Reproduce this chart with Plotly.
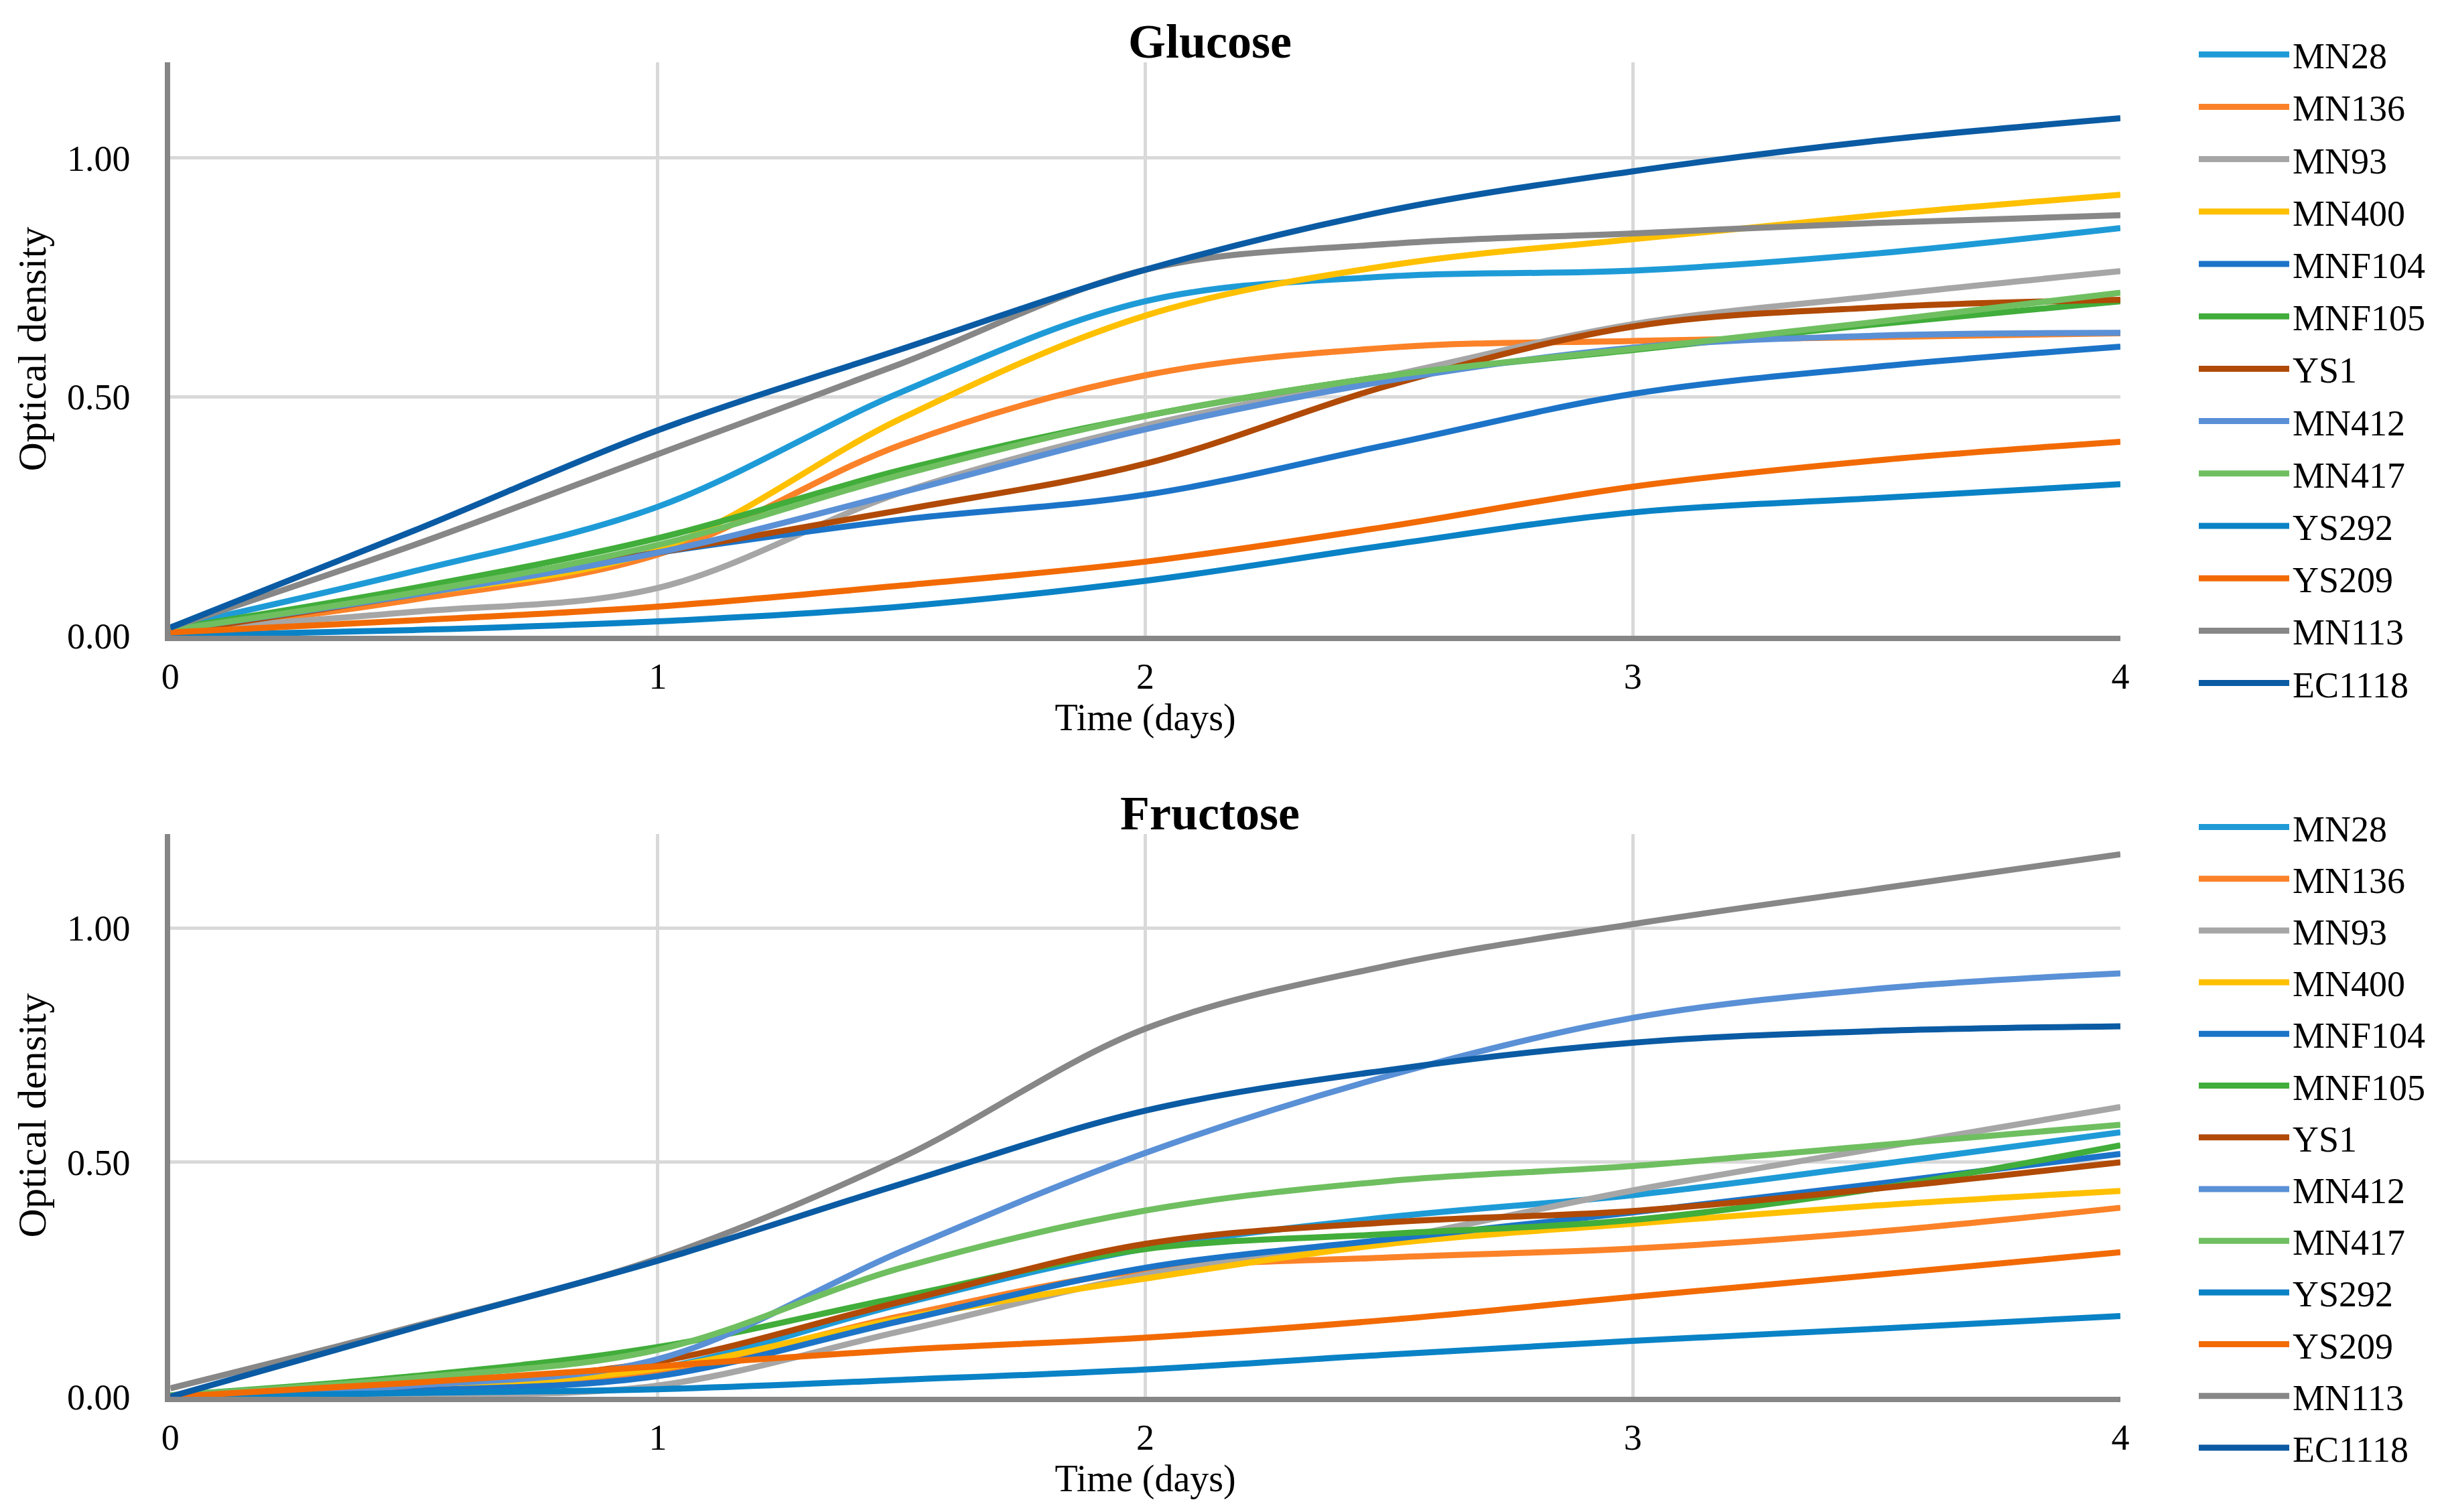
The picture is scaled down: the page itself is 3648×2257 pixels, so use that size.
import plotly.graph_objects as go

days = [0, 0.5, 1, 1.5, 2, 2.5, 3, 3.5, 4]
strains = ["MN28", "MN136", "MN93", "MN400", "MNF104", "MNF105", "YS1",
           "MN412", "MN417", "YS292", "YS209", "MN113", "EC1118"]
colors = ["#1E9BD7", "#FB8228", "#A6A6A6", "#FFC000", "#1C74C8", "#41AD3A",
          "#B04A06", "#5A90D6", "#6FBF60", "#0A82C6", "#F26A04", "#878787", "#0A5BA3"]

# Glucose optical density
g_MN28 = [0.017, 0.135, 0.27, 0.51, 0.70, 0.752, 0.764, 0.80, 0.853]
g_MN136 = [0.007, 0.076, 0.17, 0.40, 0.545, 0.603, 0.617, 0.625, 0.633]
g_MN93 = [0.012, 0.05, 0.10, 0.30, 0.44, 0.544, 0.652, 0.711, 0.763]
g_MN400 = [0.012, 0.086, 0.18, 0.455, 0.67, 0.775, 0.83, 0.88, 0.923]
g_MNF104 = [0.007, 0.096, 0.174, 0.243, 0.295, 0.40, 0.506, 0.563, 0.605]
g_MNF105 = [0.014, 0.10, 0.204, 0.347, 0.46, 0.544, 0.598, 0.652, 0.70]
g_YS1 = [0.007, 0.086, 0.174, 0.263, 0.36, 0.524, 0.647, 0.687, 0.703]
g_MN412 = [0.012, 0.086, 0.174, 0.30, 0.432, 0.534, 0.603, 0.628, 0.634]
g_MN417 = [0.012, 0.09, 0.19, 0.337, 0.46, 0.544, 0.60, 0.657, 0.718]
g_YS292 = [0.0, 0.012, 0.03, 0.061, 0.115, 0.19, 0.258, 0.288, 0.317]
g_YS209 = [0.007, 0.032, 0.061, 0.105, 0.155, 0.229, 0.312, 0.367, 0.406]
g_MN113 = [0.017, 0.19, 0.38, 0.57, 0.766, 0.82, 0.842, 0.864, 0.88]
g_EC1118 = [0.017, 0.22, 0.43, 0.60, 0.766, 0.89, 0.972, 1.036, 1.083]

# Fructose optical density
f_MN28 = [0.0, 0.018, 0.06, 0.198, 0.316, 0.383, 0.43, 0.495, 0.564]
f_MN136 = [0.0, 0.016, 0.054, 0.172, 0.27, 0.297, 0.316, 0.352, 0.403]
f_MN93 = [0.0, 0.003, 0.024, 0.14, 0.26, 0.336, 0.44, 0.53, 0.618]
f_MN400 = [0.0, 0.018, 0.06, 0.167, 0.252, 0.326, 0.369, 0.408, 0.439]
f_MNF104 = [0.0, 0.013, 0.044, 0.162, 0.275, 0.336, 0.393, 0.454, 0.518]
f_MNF105 = [0.003, 0.044, 0.106, 0.213, 0.315, 0.347, 0.377, 0.444, 0.536]
f_YS1 = [0.0, 0.024, 0.075, 0.203, 0.326, 0.372, 0.396, 0.444, 0.50]
f_MN412 = [0.0, 0.024, 0.08, 0.31, 0.52, 0.685, 0.808, 0.87, 0.903]
f_MN417 = [0.003, 0.04, 0.10, 0.275, 0.397, 0.46, 0.492, 0.536, 0.58]
f_YS292 = [0.0, 0.008, 0.016, 0.036, 0.058, 0.09, 0.119, 0.145, 0.172]
f_YS209 = [0.0, 0.03, 0.065, 0.10, 0.126, 0.164, 0.213, 0.26, 0.308]
f_MN113 = [0.018, 0.15, 0.295, 0.51, 0.785, 0.92, 1.008, 1.083, 1.157]
f_EC1118 = [0.0, 0.147, 0.29, 0.454, 0.61, 0.697, 0.755, 0.78, 0.79]

glucose = [g_MN28, g_MN136, g_MN93, g_MN400, g_MNF104, g_MNF105, g_YS1,
           g_MN412, g_MN417, g_YS292, g_YS209, g_MN113, g_EC1118]
fructose = [f_MN28, f_MN136, f_MN93, f_MN400, f_MNF104, f_MNF105, f_YS1,
            f_MN412, f_MN417, f_YS292, f_YS209, f_MN113, f_EC1118]

y_ticks = [0, 0.5, 1.0]
y_tick_text = ["0.00", "0.50", "1.00"]
x_ticks = [0, 1, 2, 3, 4]

FONT = "Liberation Serif"
fig = go.Figure()

for name, col, g in zip(strains, colors, glucose):
    fig.add_trace(go.Scatter(x=days, y=g, name=name, mode="lines", legendgroup="glc_" + name,
                             line=dict(color=col, width=9, shape="spline", smoothing=1.0),
                             xaxis="x", yaxis="y", legend="legend"))
for name, col, f in zip(strains, colors, fructose):
    fig.add_trace(go.Scatter(x=days, y=f, name=name, mode="lines", legendgroup="fru_" + name,
                             line=dict(color=col, width=9, shape="spline", smoothing=1.0),
                             xaxis="x2", yaxis="y2", legend="legend2"))

xdom = [0.0675, 0.8654]
xa = dict(range=[0, 4], tickvals=x_ticks, showline=True, linecolor="#868686", linewidth=8,
          showgrid=True, gridcolor="#D9D9D9", gridwidth=5, zeroline=False, ticks="",
          ticklabelstandoff=6, tickfont=dict(family=FONT, size=54, color="black"),
          title=dict(text="Time (days)", font=dict(family=FONT, size=56, color="black"), standoff=0),
          domain=xdom, fixedrange=True, automargin=False)
ya = dict(range=[0, 1.2], tickvals=y_ticks, ticktext=y_tick_text, showline=True,
          linecolor="#868686", linewidth=8, showgrid=True, gridcolor="#D9D9D9", gridwidth=5,
          zeroline=False, ticks="", ticklabelstandoff=41,
          tickfont=dict(family=FONT, size=54, color="black"),
          title=dict(text="Optical density", font=dict(family=FONT, size=60, color="black")),
          fixedrange=True, automargin=False)

leg = dict(font=dict(family=FONT, size=54, color="black"), bgcolor="rgba(0,0,0,0)",
           borderwidth=0, xanchor="left", yanchor="top", itemwidth=135)

fig.update_layout(
    width=3648, height=2257,
    margin=dict(l=0, r=0, t=0, b=0, autoexpand=False),
    paper_bgcolor="white", plot_bgcolor="white",
    xaxis=dict(xa, anchor="y"),
    yaxis=dict(ya, domain=[0.5831, 0.9623], anchor="x"),
    xaxis2=dict(xa, anchor="y2"),
    yaxis2=dict(ya, domain=[0.0798, 0.4519], anchor="x2"),
    legend=dict(leg, x=0.8961, y=0.986, tracegroupgap=5),
    legend2=dict(leg, x=0.8961, y=0.4750, tracegroupgap=4),
    annotations=[
        dict(text="<b>Glucose</b>", x=0.493, y=0.976, xref="paper", yref="paper",
             showarrow=False, font=dict(family=FONT, size=72, color="black"), yanchor="middle"),
        dict(text="<b>Fructose</b>", x=0.493, y=0.4658, xref="paper", yref="paper",
             showarrow=False, font=dict(family=FONT, size=72, color="black"), yanchor="middle"),
    ],
)

fig.write_html("out.html")
